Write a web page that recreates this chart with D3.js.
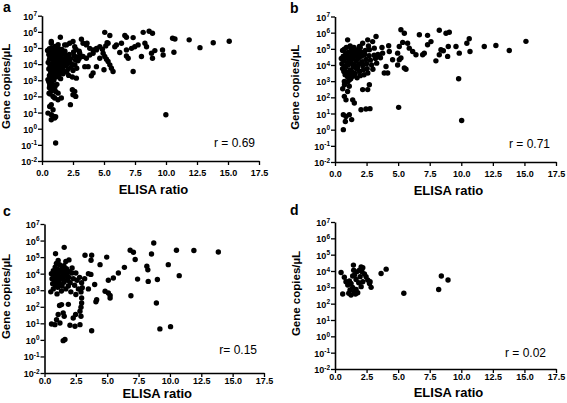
<!DOCTYPE html>
<html><head><meta charset="utf-8">
<script src="https://cdn.jsdelivr.net/npm/d3@7"></script>
<style>body{margin:0;background:#fff} svg text{font-family:"Liberation Sans",Arial,Helvetica,sans-serif}</style>
</head><body><svg id="chart" width="567" height="403"></svg>
<script>
// ---- tick labels / text ----
const xTicks = [0, 2.5, 5, 7.5, 10, 12.5, 15, 17.5];
const yTicks = [1e-2, 1e-1, 1e0, 1e1, 1e2, 1e3, 1e4, 1e5, 1e6, 1e7];
const yExponents = [-2, -1, 0, 1, 2, 3, 4, 5, 6, 7];
const panelLetters = ["a", "b", "c", "d"];
const rLabels = ["r = 0.69", "r = 0.71", "r= 0.15", "r = 0.02"];
const xTitle = "ELISA ratio";
const yTitle = "Gene copies/\u00B5L";

// ---- data: [ELISA ratio, gene copies/µL] ----
const panelA = [
[5.06,9.3e5],[5.47,5.9e5],[6.68,5.9e5],[6.81,4.6e5],[7.35,4.4e5],[8.16,9.3e5],[8.64,1.1e6],[8.91,8.1e5],[10.53,4.0e5],[10.72,3.6e5],[11.87,3.2e5],[13.81,2.1e5],[15.1,2.6e5],[12.74,1.05e5],[10.64,5.5e4],[9.72,7.6e4],[9.77,3.7e4],[8.91,2.3e4],[9.1,6.9e4],[8.83,4.7e4],[8.43,1.2e5],[8.3,1.95e5],[8.02,3.0e4],[7.75,1.55e5],[7.48,1.2e5],[7.22,9.5e4],[6.81,7.6e4],[6.95,2.3e4],[6.81,3.2e4],[6.27,5.2e4],[6.0,1.55e5],[6.41,1.95e5],[7.35,3.5e3],[9.99,7.4e0],[5.87,1.2e5],[5.25,2.1e5],[5.14,1.35e5],[4.87,8.3e4],[4.66,2.3e4],
[4.93,4.7e4],[5.06,3.0e4],[5.2,2.0e4],[5.33,1.45e4],[5.47,9e3],[5.6,5.6e3],[5.73,3.5e3],[5.0,4.5e3],[4.39,7e3],[4.12,2.8e3],[3.98,1.9e3],
[3.31,1.95e5],[3.63,1.95e5],[3.18,3.5e5],[2.5,2.5e5],[2.64,1.2e5],[1.97,1.55e5],[1.48,4.6e5],[0.75,2.5e5],[0.75,1.95e5],
[3.04,4.7e4],[3.31,3.0e4],[3.58,2.3e4],[3.85,3.7e4],[4.12,4.7e4],[4.39,7.6e4],[3.45,7e3],[3.72,7e3],[2.77,1.35e3],[2.45,2.6e2],[2.64,2.0e2],[2.29,3.1e1],[2.72,1.0e2],[1.56,8e1],[1.29,6.2e1],[1.1,1.3e-1],
[1.83,1.55e5],[2.23,1.95e5],[3.58,1.55e5],[3.85,9.5e4],[4.12,7.6e4],[4.39,9.5e4],[4.66,1.2e5],[5.33,1.95e5],
[0.48,1.1e3],[0.62,5.2e2],[0.75,2.6e2],[0.57,1.6e2],[0.89,1e2],[1.02,8e1],[0.75,3.1e1],[0.62,2.4e1],[0.89,1.5e1],[0.48,9.3e0],[0.75,7.4e0],[0.89,5.9e0],[0.75,3.6e0],[1.02,4.6e0],[1.1,5.5e0],[2.5,1.26e2],
[0.45,7e4],[0.55,4e4],[0.6,2e4],[0.5,1.26e4],[0.65,8e3],[0.55,5e3],[0.7,3.2e3],[0.6,2e3],[0.75,1.26e3],[0.7,8e2],
[0.8,1e5],[0.85,5.6e4],[0.9,3.2e4],[0.8,2.2e4],[0.95,1.6e4],[0.85,1.1e4],[0.9,7e3],[0.8,4.5e3],[1.0,2.8e3],[0.9,1.8e3],[0.95,1e3],[0.85,5.6e2],
[1.05,1.26e5],[1.1,7e4],[1.15,4e4],[1.05,2.5e4],[1.2,1.8e4],[1.1,1.26e4],[1.0,9e3],[1.2,6.3e3],[1.1,4e3],[1.25,2.5e3],[1.15,1.6e3],[1.05,4e2],
[1.3,1.6e5],[1.35,9e4],[1.4,5e4],[1.3,3.2e4],[1.45,2.2e4],[1.35,1.4e4],[1.5,1e4],[1.4,7e3],[1.3,4.5e3],[1.45,3.2e3],[1.35,2e3],[1.5,1.26e3],
[1.6,8e4],[1.65,4.5e4],[1.55,2.8e4],[1.7,2e4],[1.6,1.26e4],[1.75,9e3],[1.65,5.6e3],[1.55,4e3],[1.7,2.5e3],[1.8,3.5e3],
[1.85,6.3e4],[1.9,3.5e4],[2.0,2.5e4],[1.9,1.6e4],[2.05,1.1e4],[1.95,8e3],[2.1,5e3],[2.0,3.2e3],[2.15,2e3],
[2.2,4e4],[2.3,2.2e4],[2.25,1.4e4],[2.4,1e4],[2.35,6.3e3],[2.5,4e3],[2.45,1.6e3],
[2.6,3.2e4],[2.7,1.8e4],[2.8,2.8e4],[2.9,1.6e4],[3.0,2.2e4],[3.1,3.2e4],[2.65,9e3],[2.8,5.6e3],[2.55,5.6e4],[2.75,8e4],[3.0,6.3e4],
[0.6,9e4],[0.75,3.5e4],[1.25,5.6e4],[1.55,1.8e4],[1.8,1.4e4],[0.65,2.8e4],[0.95,4e4],[1.2,9e3],[1.4,3.2e4],[1.0,2e4],
[0.6,3.5e2],[0.75,2.2e2],[0.65,1.4e2],[0.9,2.8e2],[1.1,2e2],[1.3,1.6e2],[1.2,5.6e2],[0.55,8e2]
];
const panelB = [
[5.22,1.5e6],[5.49,9.3e5],[6.68,7.4e5],[7.33,6.8e5],[8.26,1.4e6],[8.79,9.3e5],[9.05,1.07e6],[10.63,4.2e5],[10.44,2.2e5],[9.84,5.4e4],[9.58,1.4e5],[8.97,1.4e5],[8.58,7.6e4],[8.39,8.7e4],[7.99,1.8e4],[8.26,4.3e4],[8.92,3.4e4],[10.69,6.9e4],[11.82,1.4e5],[12.74,1.6e5],[13.8,7.9e4],[15.12,2.9e5],[9.79,1.4e3],[10.03,3.7e0],[5.04,2.4e1],
[7.6,2.8e5],[7.33,1.8e5],[7.07,5.4e4],[6.94,4.3e4],[6.41,4.3e4],[6.15,6.9e4],[5.75,2.2e5],[5.88,1.1e5],[5.36,2.5e5],[5.09,1.4e5],[4.96,5.4e4],[5.22,2.7e4],[5.09,2.1e4],[5.49,6.5e3],[5.62,5.5e3],[4.96,1e4],[4.56,2.1e4],[4.04,8.1e3],[3.9,3.2e3],[4.17,3.2e3],[4.3,6.9e4],[3.77,5.4e4],[3.51,3.4e4],[3.25,5.8e5],[2.98,2.8e5],[2.59,3.6e5],[2.19,2.2e5],[1.93,1.4e5],[1.0,3.6e5],[0.74,9.5e4],[1.27,1e5],[1.79,8.7e4],[2.72,8.7e4],[3.11,1.1e5],[3.72,1.2e5],[4.25,1.55e5],
[2.19,3e2],[2.59,3e2],[2.72,6e2],[2.06,1.7e1],[2.45,1.9e1],[2.77,2e1],[1.53,4.5e1],[1.4,7e1],[1.13,4.8e2],[1.0,2.3e2],[0.74,1.15e2],[0.87,7e1],[0.61,3.4e2],[0.74,9.5e2],[1.13,1.2e3],[1.4,2e3],[0.66,8.5e0],[0.87,6.6e0],[0.82,3.2e0],[1.13,8.5e0],[1.32,4.2e0],[0.66,1.0e0],
[0.5,2.5e4],[0.55,1.2e4],[0.6,6e3],[0.65,3.5e4],[0.7,1.8e4],[0.75,8e3],[0.7,4e3],[0.8,2.5e3],[0.85,5e4],[0.9,2.8e4],[0.95,1.4e4],[0.85,7e3],[0.95,3.5e3],[1.0,1.8e3],[1.05,6e4],[1.1,3.2e4],[1.15,2e4],[1.05,1e4],[1.2,5e3],[1.1,2.8e3],[1.25,1.4e3],[1.3,8e4],[1.35,4.5e4],[1.4,2.5e4],[1.3,1.3e4],[1.45,8e3],[1.35,4e3],[1.5,2.2e3],[1.55,6e4],[1.6,3.5e4],[1.65,1.8e4],[1.55,1e4],[1.7,6e3],[1.6,3e3],[1.75,1.6e3],[1.8,4.5e4],[1.85,2.5e4],[1.9,1.2e4],[1.8,7e3],[1.95,4e3],[2.0,2.2e3],[2.05,6.5e4],[2.1,3.5e4],[2.15,1.6e4],[2.2,9e3],[2.25,5e3],[2.3,2.5e3],[2.35,4.5e4],[2.45,2.2e4],[2.5,1.2e4],[2.55,6e3],[2.6,3.2e3],[2.7,3.8e4],[2.8,2e4],[2.9,1e4],[3.0,5.5e3],[3.1,4e4],[3.2,2.5e4],[3.4,4.5e4],[3.6,2.8e4],[3.3,1.3e4],[0.6,8e4],[1.2,1.5e5],[1.5,1.2e5],[0.75,6e2],[1.0,9e2],[0.9,1.2e5],[1.45,4e4],[2.0,1.2e5],[2.4,8e4],[2.65,1.5e5]
];
const panelC = [
[8.71,7.1e5],[8.53,1.55e5],[10.52,2.6e5],[11.91,2.5e5],[13.86,2.05e5],[9.87,3.5e4],[9.0,4.4e3],[10.74,7.6e3],[8.92,1.7e2],[9.2,4.6e0],[10.05,6.3e0],[8.27,3.4e3],[7.42,4.7e3],[6.89,4.6e2],
[1.57,3.9e5],[0.88,1.6e5],[1.09,6.2e4],[1.95,6.8e4],[3.23,1.3e5],[3.76,1.3e5],[3.71,6.5e4],[4.43,3.5e4],[4.96,1.0e5],[6.83,2.6e5],[7.09,1.95e5],[7.23,7.1e4],[8.16,2.8e4],[8.24,1.7e4],
[5.09,4e3],[5.49,5.5e3],[5.89,1.1e4],[6.37,2.4e4],[5.23,4.9e2],[5.09,6.8e2],[4.83,8.7e2],[4.16,2.7e2],[3.76,3.6e0],[5.23,3.4e2],
[2.96,2.8e3],[3.01,1.4e3],[2.91,7.9e2],[2.96,3.4e2],[2.96,1.7e2],[2.91,9.3e1],[2.83,5.4e1],[2.91,2.7e1],[2.83,8.3e0],[2.43,6.6e0],[2.03,7.6e0],[2.29,2.1e1],[2.48,3.4e1],
[0.56,9.1e0],[0.83,8.3e0],[0.96,1.66e1],[1.09,3.4e1],[1.23,1.05e1],[1.49,4.3e1],[1.57,2.7e1],[1.36,1.35e2],[1.63,1.05e0],[1.49,9e-1],
[0.55,1e4],[0.6,5e3],[0.65,2.5e3],[0.5,8e2],[0.7,1.5e4],[0.75,7e3],[0.8,3.5e3],[0.7,1.2e3],[0.85,2.5e4],[0.9,1.1e4],[0.95,5.5e3],[0.85,2e3],[1.0,6e2],[1.05,1.8e4],[1.1,8e3],[1.15,4e3],[1.05,1.5e3],[1.2,3.5e4],[1.25,1.4e4],[1.3,6e3],[1.2,2.5e3],[1.35,9e2],[1.4,2.2e4],[1.45,1e4],[1.5,4.5e3],[1.4,1.8e3],[1.55,3e4],[1.6,1.5e4],[1.65,7e3],[1.55,3e3],[1.7,1.2e3],[1.75,2e4],[1.8,9e3],[1.85,4e3],[1.9,1.8e3],[1.95,6e3],[2.0,1.3e4],[2.05,2.8e3],[2.1,8e2],[2.2,1.1e4],[2.3,5e3],[2.4,2e3],[2.5,1.1e4],[2.6,4e3],[2.7,1.2e3],[2.8,6e3],[1.0,3e3],[1.3,1.7e4],[0.95,4.2e4],[1.7,5.5e4],[2.2,2.2e4],[2.5,5.5e2],[1.9,1.4e2],[1.2,1.2e2],[3.2,5e3],[3.5,1.2e3],[3.7,9e3],[4.0,2.2e3],[4.1,2e2],[3.5,1e4]
];
const panelD = [
[0.48,8.1e3],[0.87,2.2e3],[1.14,2.5e3],[0.74,4.1e3],[1.01,1.4e3],[1.27,1.7e3],[1.4,1.0e3],[1.19,6.8e2],[1.54,5.4e2],[1.67,7.4e2],[1.8,4.7e2],[1.48,1.1e4],[1.46,2.3e4],[1.54,5.6e3],[1.67,3.0e3],[1.93,1.1e4],[2.07,1.8e4],[2.2,1.6e4],[2.14,8.9e3],[1.99,4.5e3],[2.2,2.2e3],[2.33,6.5e3],[2.46,4.5e3],[2.59,2.8e3],[2.73,1.7e3],[2.86,1.0e3],[2.78,2.2e3],[2.07,1.1e3],[1.88,1.9e3],[0.61,3.9e2],[1.09,4.3e2],[1.27,3.4e2],[1.62,3.9e2],[1.72,8.9e3],[1.4,4.9e3],
[3.65,7.1e3],[4.05,1.3e4],[5.45,4.3e2],[8.21,7.4e2],[8.42,4.9e3],[8.95,2.8e3]
];
const panels = [panelA, panelB, panelC, panelD];

// ---- layout (pixel geometry) ----
const layout = [
  {x0:42,  x1:259, yTop:15.7, yBot:161, letterX:3,   letterY:11.5, yTitleX:10,  xTickY:176, xTitleY:194, rX:255, rY:147},
  {x0:335, x1:556, yTop:16.5, yBot:162, letterX:290, letterY:13,   yTitleX:299, xTickY:177, xTitleY:195, rX:550, rY:148},
  {x0:44.5,x1:264, yTop:224,  yBot:373, letterX:3,   letterY:216,  yTitleX:10,  xTickY:384, xTitleY:398, rX:257, rY:354},
  {x0:335, x1:556, yTop:222,  yBot:369, letterX:290, letterY:215,  yTitleX:300, xTickY:380, xTitleY:397, rX:546, rY:357}
];

const svg = d3.select("#chart");
svg.append("rect").attr("width",567).attr("height",403).attr("fill","#fff");

panels.forEach((data, i) => {
  const L = layout[i];
  const x = d3.scaleLinear().domain([0, 17.5]).range([L.x0, L.x1]);
  const y = d3.scaleLog().domain([1e-2, 1e7]).range([L.yBot, L.yTop]);
  const g = svg.append("g");

  // points
  g.append("g").selectAll("circle").data(data).join("circle")
    .attr("cx", d => x(d[0])).attr("cy", d => y(d[1])).attr("r", 2.7).attr("fill", "#000");

  // x axis
  const xa = g.append("g").attr("transform", `translate(0,${L.yBot})`)
    .call(d3.axisBottom(x).tickValues(xTicks).tickFormat(d3.format(".1f")).tickSize(4).tickSizeOuter(0));
  xa.select(".domain").attr("stroke-width", 1.6);
  xa.selectAll(".tick line").attr("stroke-width", 1.3);
  xa.selectAll(".tick text").attr("y", null).attr("dy", null)
    .attr("transform", `translate(0,${L.xTickY - L.yBot})`)
    .attr("font-size", 9).attr("font-weight", "bold").attr("font-family", "Liberation Sans, Arial, sans-serif");

  // y axis
  const ya = g.append("g").attr("transform", `translate(${L.x0},0)`)
    .call(d3.axisLeft(y).tickValues(yTicks).tickFormat("").tickSize(4).tickSizeOuter(0));
  ya.select(".domain").attr("stroke-width", 1.6);
  ya.selectAll(".tick line").attr("stroke-width", 1.3);
  ya.selectAll(".tick text").remove();
  ya.selectAll(".tick").append("text")
    .attr("x", -5).attr("dy", "0.35em").attr("text-anchor", "end").attr("fill", "#000")
    .attr("font-family", "Liberation Sans, Arial, sans-serif").attr("font-weight", "bold")
    .each(function(d, j) {
      const t = d3.select(this);
      t.append("tspan").attr("font-size", 9).text("10");
      t.append("tspan").attr("font-size", 6.5).attr("dy", -3.5).text(yExponents[j]);
    });

  // panel letter
  g.append("text").attr("x", L.letterX).attr("y", L.letterY)
    .attr("font-size", 14).attr("font-weight", "bold").text(panelLetters[i]);

  // y title
  const cy = (L.yTop + L.yBot) / 2 - 2;
  g.append("text").attr("transform", `translate(${L.yTitleX},${cy}) rotate(-90)`)
    .attr("text-anchor", "middle").attr("font-size", 11.5).attr("font-weight", "bold").text(yTitle);

  // x title
  g.append("text").attr("x", (L.x0 + L.x1) / 2 + 3).attr("y", L.xTitleY)
    .attr("text-anchor", "middle").attr("font-size", 13).attr("font-weight", "bold").text(xTitle);

  // r label
  g.append("text").attr("x", L.rX).attr("y", L.rY).attr("text-anchor", "end")
    .attr("font-size", 12).text(rLabels[i]);
});
</script></body></html>
